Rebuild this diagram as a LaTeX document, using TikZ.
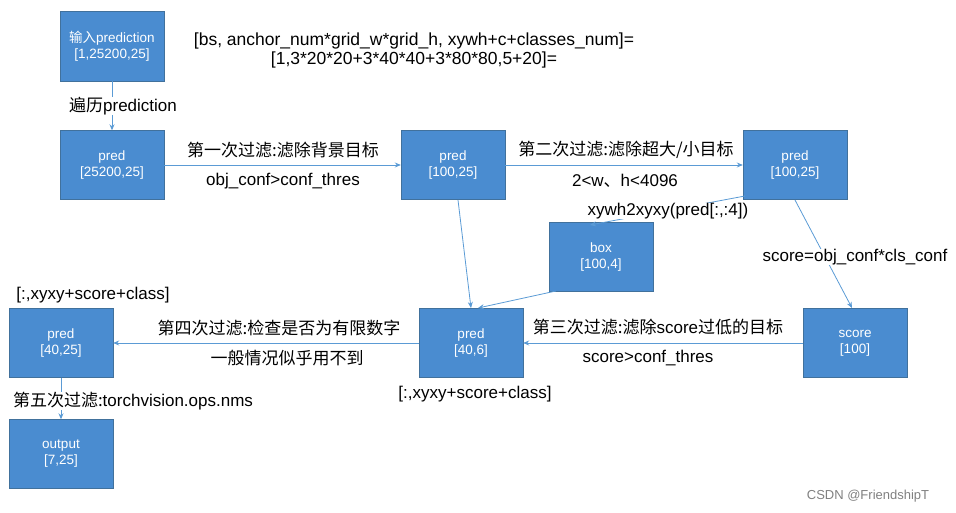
\documentclass[tikz,border=0pt]{standalone}
\usepackage{fontspec}
\setmainfont{Liberation Sans}
\newfontfamily\cjk{Noto Sans CJK SC}
\usetikzlibrary{arrows.meta}
\definecolor{bfill}{HTML}{4A8CD0}
\definecolor{bdraw}{HTML}{41719C}
\definecolor{lcol}{HTML}{5B9BD5}
\begin{document}
\begin{tikzpicture}[x=1pt,y=-1pt,
  box/.style={draw=bdraw,fill=bfill,text=white,font=\fontsize{13.5}{16}\selectfont,align=center,minimum width=104pt,minimum height=69pt,inner sep=1pt},
  arr/.style={draw=lcol,line width=0.8pt,-{Stealth[length=6pt,width=5pt]}},
  lab/.style={font=\fontsize{17}{20}\selectfont,text=black,inner sep=1pt}]
\useasboundingbox (0,0) rectangle (956,513);
\node[box,minimum height=70pt] (in) at (112,46) {{\cjk 输入}prediction\\{}[1,25200,25]};
\node[box] (p1) at (112,165) {pred\\{}[25200,25]};
\node[box] (p2) at (453,165) {pred\\{}[100,25]};
\node[box] (p3) at (795,165) {pred\\{}[100,25]};
\node[box] (bx) at (601,257) {box\\{}[100,4]};
\node[box] (p4) at (471,343) {pred\\{}[40,6]};
\node[box] (sc) at (855,343) {score\\{}[100]};
\node[box] (p5) at (61,343) {pred\\{}[40,25]};
\node[box] (out) at (61,454) {output\\{}[7,25]};
\node[lab,align=center,font=\fontsize{17.5}{19}\selectfont] (top) at (414,50) {[bs, anchor\_num*grid\_w*grid\_h, xywh+c+classes\_num]=\\{}[1,3*20*20+3*40*40+3*80*80,5+20]=};
\draw[arr] (in) -- (p1);
\node[lab,fill=white,inner sep=0pt] (l0) at (123,106) {{\cjk 遍历}prediction};
\draw[arr] (p1) -- (p2);
\node[lab] (l1a) at (283,150) {{\cjk 第一次过滤:滤除背景目标}};
\node[lab] (l1b) at (283,181) {obj\_conf>conf\_thres};
\draw[arr] (p2) -- (p3);
\node[lab] (l2a) at (626,150) {{\cjk 第二次过滤:滤除超大/小目标}};
\node[lab] (l2b) at (625,181) {2<w{\cjk 、}h<4096};
\draw[arr] (745,196) -- (590,225);
\node[lab,fill=white,inner sep=0pt] (l3) at (668,211) {xywh2xyxy(pred[:,:4])};
\draw[arr] (458,200) -- (471,308);
\draw[arr] (556,291) -- (478,308);
\draw[arr] (795,200) -- (852,308);
\node[lab,fill=white,inner sep=0pt] (l4) at (855,257) {score=obj\_conf*cls\_conf};
\draw[arr] (sc) -- (p4);
\node[lab] (l5a) at (658,327) {{\cjk 第三次过滤:滤除}score{\cjk 过低的目标}};
\node[lab] (l5b) at (648,358) {score>conf\_thres};
\draw[arr] (p4) -- (p5);
\node[lab] (l6a) at (279,328) {{\cjk 第四次过滤:检查是否为有限数字}};
\node[lab] (l6b) at (287,358) {{\cjk 一般情况似乎用不到}};
\draw[arr] (p5) -- (out);
\node[lab,fill=white,inner sep=0pt] (l7) at (133,401) {{\cjk 第五次过滤:}torchvision.ops.nms};
\node[lab] (c1) at (93,295) {[:,xyxy+score+class]};
\node[lab] (c2) at (475,394) {[:,xyxy+score+class]};
\node[font=\fontsize{13}{15}\selectfont,text=gray] (wm) at (868,496) {CSDN @FriendshipT};
\end{tikzpicture}
\end{document}
